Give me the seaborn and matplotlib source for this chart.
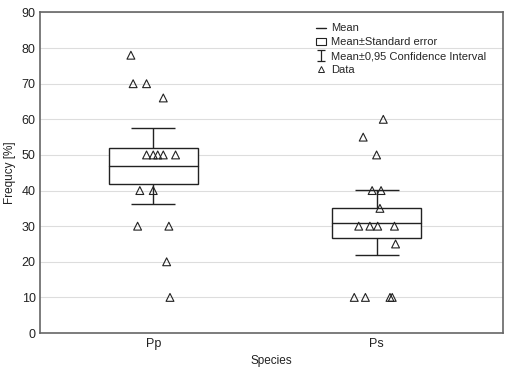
"""Mean / SE / CI box chart with jittered raw data, per species"""
import numpy as np
import pandas as pd
import seaborn as sns
import matplotlib.pyplot as plt
from matplotlib.patches import Rectangle
from matplotlib.lines import Line2D

species = ['Pp'] * 15 + ['Ps'] * 15
values = [78, 70, 70, 66, 50, 50, 50, 50, 50, 40, 40, 30, 30, 20, 10,
          60, 55, 50, 40, 40, 35, 30, 30, 30, 30, 25, 10, 10, 10, 10]
# horizontal jitter of each triangle, in category units
jitter = [-0.10, -0.09, -0.03, 0.045, -0.03, 0.0, 0.02, 0.045, 0.10, -0.06, 0.0, -0.07, 0.07, 0.06, 0.075,
          0.03, -0.06, 0.0, -0.02, 0.02, 0.015, -0.08, -0.03, 0.005, 0.08, 0.085, -0.10, -0.05, 0.06, 0.07]
categories = ['Pp', 'Ps']
t_975 = 2.145  # t quantile, df = 14

sns.set_style('white')
plt.rcParams['font.family'] = ['Liberation Sans', 'DejaVu Sans']

df = pd.DataFrame({'Species': species, 'Value': values, 'dx': jitter})
df['x'] = df['Species'].map({c: i for i, c in enumerate(categories)}) + df['dx']

stats = df.groupby('Species')['Value'].agg(['mean', 'std', 'count']).loc[categories]
stats['se'] = stats['std'] / np.sqrt(stats['count'])
stats['ci'] = t_975 * stats['se']

fig = plt.figure(figsize=(5.12, 3.78), dpi=100)
ax = fig.add_axes([0.079, 0.119, 0.903, 0.848])

ink = '#222222'
half = 0.2
for i, (name, row) in enumerate(stats.iterrows()):
    # confidence interval whisker
    ax.errorbar(i, row['mean'], yerr=row['ci'], fmt='none', ecolor=ink,
                elinewidth=1.0, capsize=16, capthick=1.0, zorder=2)
    # mean +- standard error box
    ax.add_patch(Rectangle((i - half, row['mean'] - row['se']), 2 * half, 2 * row['se'],
                           facecolor='white', edgecolor=ink, linewidth=1.0, zorder=3))
    ax.plot([i - half, i + half], [row['mean'], row['mean']], color=ink, lw=1.0, zorder=3)

sns.scatterplot(data=df, x='x', y='Value', marker='^', s=32, facecolor='none',
                edgecolor=ink, linewidth=0.8, zorder=4, ax=ax, legend=False)

# legend proxy for the CI whisker, drawn outside the visible range
ci_handle = ax.errorbar([-5], [45], yerr=[5], fmt='none', ecolor=ink,
                        elinewidth=0.9, capsize=3, capthick=0.9)

ax.set_xlim(-0.505, 1.565)
ax.set_ylim(0, 90)
ax.set_xticks(range(len(categories)))
ax.set_xticklabels(categories)
ax.set_yticks(range(0, 91, 10))
ax.yaxis.grid(True, color='#dddddd', linewidth=0.8)
ax.set_axisbelow(True)
ax.tick_params(direction='in', length=3, labelsize=9, colors='#555555', labelcolor='#222222')
for s in ax.spines.values():
    s.set_color('#666666')
    s.set_linewidth(1.2)
ax.set_xlabel('Species', fontsize=8.5, color='#222222')
ax.set_ylabel('Frequcy [%]', fontsize=8.5, color='#222222')

handles = [Line2D([], [], color=ink, lw=1.0),
           Rectangle((0, 0), 1, 1, facecolor='white', edgecolor=ink, lw=0.8),
           ci_handle,
           Line2D([], [], marker='^', ls='none', markerfacecolor='none',
                  markeredgecolor=ink, markersize=5, markeredgewidth=0.7)]
labels = ['Mean', 'Mean±Standard error', 'Mean±0,95 Confidence Interval', 'Data']
ax.legend(handles, labels, loc='upper left', bbox_to_anchor=(0.58, 0.99), frameon=False,
          fontsize=8, handlelength=0.9, handletextpad=0.4, labelspacing=0.35,
          borderaxespad=0.3)

fig.savefig('out.png')
plt.close(fig)
